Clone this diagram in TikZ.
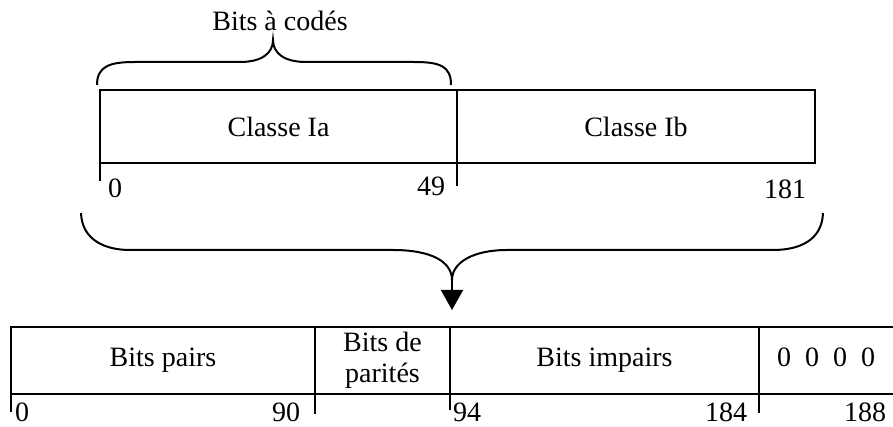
\documentclass[tikz,border=0pt]{standalone}
\usepackage{fontspec}
\setmainfont{Liberation Serif}
\usetikzlibrary{arrows.meta}

\begin{document}
\begin{tikzpicture}[x=1pt,y=-1pt,line width=2pt,
        font=\fontsize{28}{31}\selectfont,
        upcell/.style={draw,inner sep=0pt,outer sep=0pt,minimum height=73pt},
        lowcell/.style={draw,inner sep=0pt,outer sep=0pt,minimum height=67pt,align=center},
        idx/.style={inner sep=0pt}]
        \useasboundingbox (0,0) rectangle (893,427);
        % upper frame
        \node[upcell,minimum width=357pt] (ia) at (278.5,126.5) {Classe Ia};
        \node[upcell,minimum width=358pt] (ib) at (636,126.5) {Classe Ib};
        \draw (ia.south west) -- ++(0,18);
        \draw (ia.south east) -- ++(0,23);
        \node[idx] (i0) at (115,188) {0};
        \node[idx] (i49) at (431,186) {49};
        \node[idx] (i181) at (785,189) {181};
        % small brace
        \node[idx] (codes) at (280,21) {Bits à codés};
        \draw (97,85) .. controls (97,66) and (110,62) .. (135,62) -- (240,62)
            .. controls (262,62) and (273,53) .. (273,40)
            .. controls (273,53) and (284,62) .. (306,62) -- (414,62)
            .. controls (440,62) and (451,66) .. (451,85);
        % big brace
        \coordinate (tip) at (452,280);
        \coordinate (arrowend) at (452,310);
        \draw (81,213) .. controls (82,240) and (105,250) .. (130,250) -- (393,250)
            .. controls (432,250) and (452,262) .. (tip)
            .. controls (452,262) and (474,250) .. (507,250) -- (773,250)
            .. controls (800,250) and (822,240) .. (823,213);
        \draw[-{Triangle[length=20pt,width=22pt]}] (tip) -- (arrowend);
        % lower frame
        \node[lowcell,minimum width=304pt] (pairs) at (163,360.5) {Bits pairs};
        \node[lowcell,minimum width=135pt] (parites) at (382.5,360.5) {Bits de\\parités};
        \node[lowcell,minimum width=309pt] (impairs) at (604.5,360.5) {Bits impairs};
        \node[lowcell,draw=none,text depth=7pt,minimum width=134pt] (zeros) at (826,360.5) {0~~0~~0~~0};
        \draw (zeros.north west) -- (zeros.north east);
        \draw (zeros.south west) -- (zeros.south east);
        \draw (pairs.south west) -- ++(0,18);
        \draw (pairs.south east) -- ++(0,20);
        \draw (parites.south east) -- ++(0,16);
        \draw (impairs.south east) -- ++(0,19);
        \node[idx] (j0) at (22,412) {0};
        \node[idx] (j90) at (286,412) {90};
        \node[idx] (j94) at (467,412) {94};
        \node[idx] (j184) at (726,412) {184};
        \node[idx] (j188) at (865,412) {188};
    \end{tikzpicture}
\end{document}
